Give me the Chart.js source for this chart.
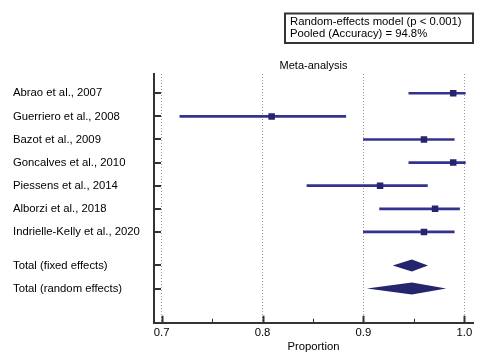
<!DOCTYPE html>
<html>
<head>
<meta charset="utf-8">
<script src="https://cdn.jsdelivr.net/npm/chart.js@4.4.1/dist/chart.umd.min.js"></script>
<style>
  body { margin: 0; background: #fff; }
  #forest { display: block; }
</style>
</head>
<body>
<canvas id="forest" width="490" height="360"></canvas>
<script>
// study rows
const studies = ['Abrao et al., 2007', 'Guerriero et al., 2008', 'Bazot et al., 2009',
  'Goncalves et al., 2010', 'Piessens et al., 2014', 'Alborzi et al., 2018',
  'Indrielle-Kelly et al., 2020'];
const estimates = [0.989, 0.809, 0.960, 0.989, 0.9165, 0.971, 0.960];
const lower = [0.945, 0.718, 0.900, 0.945, 0.844, 0.916, 0.900];
const upper = [1.001, 0.8825, 0.990, 1.001, 0.9634, 0.9953, 0.990];

// pooled rows
const totals = ['Total (fixed effects)', 'Total (random effects)'];
const totalEst = [0.948, 0.948];
const totalLower = [0.929, 0.9035];
const totalUpper = [0.964, 0.982];

const xTicks = [0.7, 0.75, 0.8, 0.85, 0.9, 0.95, 1.0];
const boxLines = ['Random-effects model (p < 0.001)', 'Pooled (Accuracy) = 94.8%'];

(() => {
  'use strict'

  const FONT = "'Liberation Sans', Arial, sans-serif";
  const AXIS = '#333333';
  const LINE = '#33338f';
  const MARK = '#24246f';

  // row positions on the y scale (gap before the totals)
  const studyRows = studies.map((s, i) => i + 1);
  const totalRows = totals.map((s, i) => studies.length + 1.45 + i);
  const rows = studyRows.concat(totalRows);
  const rowLabels = studies.concat(totals);

  const isMajor = (v) => Math.abs(Math.round(v * 10) - v * 10) < 1e-6;

  const extras = {
    id: 'extras',
    afterDatasetsDraw(chart) {
      const {ctx, scales: {x, y}} = chart;
      ctx.save();
      ctx.fillStyle = MARK;
      totals.forEach((t, i) => {
        const py = y.getPixelForValue(totalRows[i]);
        const h = 6;
        ctx.beginPath();
        ctx.moveTo(x.getPixelForValue(totalLower[i]), py);
        ctx.lineTo(x.getPixelForValue(totalEst[i]), py - h);
        ctx.lineTo(x.getPixelForValue(totalUpper[i]), py);
        ctx.lineTo(x.getPixelForValue(totalEst[i]), py + h);
        ctx.closePath();
        ctx.fill();
      });
      ctx.restore();
    },
    afterDraw(chart) {
      const {ctx, chartArea, scales: {x, y}} = chart;
      ctx.save();
      ctx.strokeStyle = AXIS;
      // inner ticks on the x axis
      xTicks.forEach((v) => {
        const px = Math.round(x.getPixelForValue(v)) + 0.5;
        const len = isMajor(v) ? 7 : 4;
        ctx.lineWidth = isMajor(v) ? 2 : 1;
        ctx.beginPath();
        ctx.moveTo(px, chartArea.bottom);
        ctx.lineTo(px, chartArea.bottom - len);
        ctx.stroke();
      });
      // inner ticks on the y axis
      ctx.lineWidth = 2;
      rows.forEach((r) => {
        const py = Math.round(y.getPixelForValue(r));
        ctx.beginPath();
        ctx.moveTo(chartArea.left, py);
        ctx.lineTo(chartArea.left + 7, py);
        ctx.stroke();
      });
      // result box
      ctx.lineWidth = 2;
      ctx.strokeRect(285, 13.5, 188, 29.5);
      ctx.fillStyle = '#000';
      ctx.font = '11.3px ' + FONT;
      ctx.textBaseline = 'middle';
      ctx.textAlign = 'left';
      ctx.fillText(boxLines[0], 290, 22);
      ctx.fillText(boxLines[1], 290, 34);
      ctx.restore();
    }
  };

  // eslint-disable-next-line no-unused-vars
  const myChart = new Chart(document.getElementById('forest'), {
    type: 'scatter',
    data: {
      datasets: [{
        data: studies.map((s, i) => ({x: estimates[i], y: studyRows[i]})),
        pointStyle: 'rect',
        pointRadius: 4.6,
        pointHoverRadius: 4.6,
        borderWidth: 0,
        backgroundColor: MARK,
        order: 0
      },
      {
        type: 'bar',
        indexAxis: 'y',
        data: studies.map((s, i) => ({y: studyRows[i], x: [lower[i], upper[i]]})),
        barThickness: 2,
        borderWidth: 0,
        backgroundColor: LINE,
        order: 1
      }
      ]
    },
    options: {
      responsive: false,
      animation: false,
      layout: {
        padding: {left: 13, right: 17, top: 59, bottom: 0}
      },
      plugins: {
        legend: {
          display: false
        },
        tooltip: {
          enabled: false
        },
        title: {
          display: true,
          text: 'Meta-analysis',
          fullSize: false,
          color: '#000',
          font: {family: FONT, size: 11, weight: 'normal'},
          padding: {top: 0, bottom: 1.8}
        }
      },
      scales: {
        x: {
          type: 'linear',
          offset: false,
          min: 0.6924,
          max: 1.0086,
          afterBuildTicks: (scale) => {
            scale.ticks = xTicks.map((v) => ({value: v}));
          },
          afterFit: (scale) => {
            scale.height = 37.3;
          },
          ticks: {
            autoSkip: false,
            maxRotation: 0,
            padding: 3,
            color: '#000',
            font: {family: FONT, size: 11.3},
            callback: (v) => isMajor(v) ? v.toFixed(1) : ''
          },
          grid: {
            offset: false,
            drawTicks: false,
            lineWidth: 1,
            color: (c) => (c.tick && isMajor(c.tick.value)) ? '#999999' : 'rgba(0,0,0,0)'
          },
          border: {
            display: true,
            color: AXIS,
            width: 2,
            dash: [1, 2]
          },
          title: {
            display: true,
            text: 'Proportion',
            color: '#000',
            font: {family: FONT, size: 11.3},
            padding: {top: 0, bottom: 6}
          }
        },
        y: {
          type: 'linear',
          offset: false,
          reverse: true,
          min: 0.165,
          max: 10.93,
          afterBuildTicks: (scale) => {
            scale.ticks = rows.map((r) => ({value: r}));
          },
          afterFit: (scale) => {
            scale.width = 141;
          },
          ticks: {
            autoSkip: false,
            crossAlign: 'far',
            color: '#000',
            font: {family: FONT, size: 11.3},
            callback: (v) => rowLabels[rows.indexOf(v)]
          },
          grid: {
            offset: false,
            display: false,
            drawTicks: false
          },
          border: {
            display: true,
            color: AXIS,
            width: 2
          }
        }
      }
    },
    plugins: [extras]
  });
})();
</script>
</body>
</html>
